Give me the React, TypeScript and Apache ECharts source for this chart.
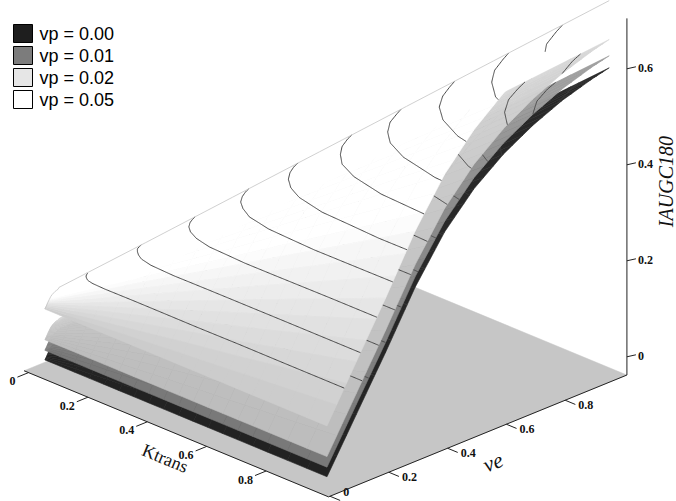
import { useEffect, useRef } from 'react';
import * as echarts from 'echarts';

// surface grid: Ktrans rows, ve given as a fraction of Ktrans (the plotted domain is ve <= Ktrans)
const ktrans = [0.05, 0.2, 0.35, 0.5, 0.65, 0.8, 1.0];
const veRatio = [0, 0.1, 0.2, 0.3, 0.4, 0.5, 0.6, 0.7, 0.8, 0.9, 0.96];

const vpNames = ['vp = 0.00', 'vp = 0.01', 'vp = 0.02', 'vp = 0.05'];

// IAUGC180, one row per Ktrans value, one column per veRatio
const iaugcVp000 = [
  [0, 0.005, 0.011, 0.016, 0.021, 0.024, 0.026, 0.028, 0.029, 0.03, 0.031],
  [0, 0.021, 0.042, 0.064, 0.082, 0.095, 0.104, 0.111, 0.117, 0.121, 0.122],
  [0, 0.037, 0.074, 0.112, 0.144, 0.166, 0.183, 0.195, 0.204, 0.211, 0.214],
  [0, 0.053, 0.105, 0.16, 0.205, 0.238, 0.261, 0.279, 0.292, 0.302, 0.306],
  [0, 0.068, 0.137, 0.208, 0.267, 0.309, 0.339, 0.362, 0.38, 0.392, 0.398],
  [0, 0.084, 0.168, 0.256, 0.328, 0.38, 0.418, 0.446, 0.467, 0.482, 0.49],
  [0, 0.105, 0.21, 0.32, 0.41, 0.475, 0.522, 0.557, 0.584, 0.603, 0.612],
];
const iaugcVp001 = [
  [0.02, 0.025, 0.031, 0.036, 0.041, 0.044, 0.046, 0.048, 0.049, 0.05, 0.051],
  [0.02, 0.041, 0.062, 0.084, 0.102, 0.115, 0.125, 0.132, 0.138, 0.142, 0.143],
  [0.02, 0.057, 0.094, 0.133, 0.165, 0.187, 0.204, 0.216, 0.225, 0.233, 0.236],
  [0.02, 0.073, 0.125, 0.181, 0.226, 0.259, 0.283, 0.301, 0.314, 0.324, 0.328],
  [0.02, 0.088, 0.158, 0.229, 0.288, 0.331, 0.361, 0.384, 0.403, 0.415, 0.421],
  [0.02, 0.104, 0.189, 0.277, 0.35, 0.402, 0.44, 0.469, 0.49, 0.506, 0.514],
  [0.02, 0.126, 0.231, 0.342, 0.432, 0.498, 0.545, 0.58, 0.608, 0.628, 0.637],
];
const iaugcVp002 = [
  [0.042, 0.047, 0.053, 0.058, 0.063, 0.066, 0.068, 0.07, 0.071, 0.072, 0.074],
  [0.042, 0.063, 0.084, 0.107, 0.125, 0.139, 0.148, 0.156, 0.162, 0.166, 0.167],
  [0.042, 0.08, 0.117, 0.156, 0.189, 0.211, 0.229, 0.241, 0.251, 0.259, 0.262],
  [0.042, 0.096, 0.149, 0.205, 0.251, 0.285, 0.308, 0.327, 0.341, 0.352, 0.357],
  [0.042, 0.111, 0.181, 0.254, 0.314, 0.357, 0.388, 0.412, 0.431, 0.445, 0.451],
  [0.042, 0.127, 0.213, 0.302, 0.376, 0.429, 0.469, 0.498, 0.521, 0.537, 0.546],
  [0.042, 0.149, 0.256, 0.367, 0.459, 0.526, 0.575, 0.612, 0.64, 0.661, 0.671],
];
const iaugcVp005 = [
  [0.106, 0.111, 0.117, 0.122, 0.127, 0.13, 0.132, 0.134, 0.135, 0.136, 0.139],
  [0.106, 0.128, 0.149, 0.172, 0.191, 0.205, 0.214, 0.222, 0.229, 0.233, 0.235],
  [0.106, 0.144, 0.182, 0.222, 0.255, 0.278, 0.296, 0.31, 0.32, 0.328, 0.332],
  [0.106, 0.161, 0.215, 0.271, 0.318, 0.353, 0.377, 0.397, 0.412, 0.424, 0.429],
  [0.106, 0.176, 0.248, 0.321, 0.382, 0.426, 0.46, 0.484, 0.504, 0.518, 0.526],
  [0.106, 0.193, 0.28, 0.37, 0.445, 0.5, 0.541, 0.572, 0.595, 0.613, 0.623],
  [0.106, 0.215, 0.323, 0.437, 0.53, 0.598, 0.649, 0.687, 0.718, 0.74, 0.752],
];

const contourLevels = [0.17, 0.23, 0.29, 0.35, 0.405, 0.465, 0.52, 0.58, 0.64, 0.7];

const ktransTicks = [0, 0.2, 0.4, 0.6, 0.8];
const veTicks = [0, 0.2, 0.4, 0.6, 0.8];
const zTicks = [0, 0.2, 0.4, 0.6];

// view of the 3D box
const ORIGIN = [30, 372];
const STEP_K = [297, 123];
const STEP_VE = [294, -120];
const Z_PX = 480;
const Z_FLOOR = -0.038;
const Z_TOP = 0.705;
const BOX_K = [-0.015, 1.01];
const BOX_VE = [-0.005, 1.01];

type V = number[];
const add = (a: V, b: V) => a.map((v, i) => v + b[i]);
const sub = (a: V, b: V) => a.map((v, i) => v - b[i]);
const scale = (a: V, s: number) => a.map(v => v * s);
const dot = (a: V, b: V) => a.reduce((t, v, i) => t + v * b[i], 0);
const unit = (a: V) => scale(a, 1 / Math.sqrt(dot(a, a)));

function project(k: number, ve: number, z: number): V {
  return [
    ORIGIN[0] + k * STEP_K[0] + ve * STEP_VE[0],
    ORIGIN[1] + k * STEP_K[1] + ve * STEP_VE[1] - (z - Z_FLOOR) * Z_PX,
  ];
}

function cellPoint(grid: number[][], i: number, j: number, u: number, v: number): V {
  const k = ktrans[i] + (ktrans[i + 1] - ktrans[i]) * u;
  const s = veRatio[j] + (veRatio[j + 1] - veRatio[j]) * v;
  const z =
    grid[i][j] * (1 - u) * (1 - v) +
    grid[i + 1][j] * u * (1 - v) +
    grid[i + 1][j + 1] * u * v +
    grid[i][j + 1] * (1 - u) * v;
  return [k, s * k, z];
}

function rowAt(grid: number[][], k: number): number[] {
  let i = 0;
  while (i < ktrans.length - 2 && k > ktrans[i + 1]) i++;
  const t = (k - ktrans[i]) / (ktrans[i + 1] - ktrans[i]);
  return grid[i].map((v, j) => v + (grid[i + 1][j] - v) * t);
}

function crossing(row: number[], level: number): number | null {
  for (let j = 0; j < row.length - 1; j++) {
    if ((row[j] - level) * (row[j + 1] - level) <= 0 && row[j] !== row[j + 1]) {
      const t = (level - row[j]) / (row[j + 1] - row[j]);
      return veRatio[j] + t * (veRatio[j + 1] - veRatio[j]);
    }
  }
  return null;
}

function contourPath(grid: number[][], level: number): V[] {
  const k0 = ktrans[0];
  const k1 = ktrans[ktrans.length - 1];
  const n = 240;
  const pts: V[] = [];
  let prevK: number | null = null;
  for (let m = 0; m <= n; m++) {
    const k = k0 + ((k1 - k0) * m) / n;
    const s = crossing(rowAt(grid, k), level);
    if (s === null) {
      prevK = k;
      continue;
    }
    if (pts.length === 0 && prevK !== null) {
      let lo = prevK;
      let hi = k;
      for (let it = 0; it < 24; it++) {
        const mid = (lo + hi) / 2;
        if (crossing(rowAt(grid, mid), level) === null) lo = mid;
        else hi = mid;
      }
      const s0 = crossing(rowAt(grid, hi), level) as number;
      pts.push([hi, s0 * hi, level]);
    }
    pts.push([k, s * k, level]);
  }
  return pts;
}

// brightness rises from the ve = 0 edge towards the upper boundary, as in the rendering
function surfaceRenderer(grid: number[][], base: number, shade: number[], lineColor: string, outline: boolean) {
  return (_params: unknown, api: any) => {
    const px = (p: V) => api.coord(project(p[0], p[1], p[2]));
    const children: any[] = [];
    const n = 3;
    for (let i = 0; i < ktrans.length - 1; i++) {
      for (let j = 0; j < veRatio.length - 1; j++) {
        for (let a = 0; a < n; a++) {
          for (let b = 0; b < n; b++) {
            const q = [
              [a, b],
              [a + 1, b],
              [a + 1, b + 1],
              [a, b + 1],
            ].map(([u, v]) => cellPoint(grid, i, j, u / n, v / n));
            const sMid = veRatio[j] + ((veRatio[j + 1] - veRatio[j]) * (b + 0.5)) / n;
            const lit = Math.min(1, shade[0] + shade[1] * sMid);
            const g = Math.round(base * lit);
            const col = `rgb(${g},${g},${g})`;
            children.push({
              type: 'polygon',
              shape: { points: q.map(px) },
              style: { fill: col, stroke: col, lineWidth: 0.6 },
            });
          }
        }
      }
    }
    contourLevels.forEach(level => {
      const pts = contourPath(grid, level);
      if (pts.length < 2) return;
      children.push({
        type: 'polyline',
        shape: { points: pts.map(px) },
        style: { stroke: lineColor, lineWidth: 0.9, fill: null },
      });
    });
    if (outline) {
      const last = veRatio.length - 1;
      const edge: V[] = [];
      veRatio.forEach((s, j) => edge.push([ktrans[0], s * ktrans[0], grid[0][j]]));
      ktrans.forEach((k, i) => {
        if (i > 0) edge.push([k, veRatio[last] * k, grid[i][last]]);
      });
      children.push({
        type: 'polyline',
        shape: { points: edge.map(px) },
        style: { stroke: '#c4c4c4', lineWidth: 0.8, fill: null },
      });
    }
    return { type: 'group', children };
  };
}

function floorRenderer(_params: unknown, api: any) {
  const corners = [
    [BOX_K[0], BOX_VE[0]],
    [BOX_K[1], BOX_VE[0]],
    [BOX_K[1], BOX_VE[1]],
    [BOX_K[0], BOX_VE[1]],
  ].map(([k, ve]) => api.coord(project(k, ve, Z_FLOOR)));
  return {
    type: 'polygon',
    shape: { points: corners },
    style: { fill: '#c6c6c6', stroke: '#c6c6c6', lineWidth: 0.5 },
  };
}

const tickFont = { fontFamily: 'Liberation Serif', fontSize: 12, fontWeight: 'bold', fill: '#111' };

function axesRenderer(_params: unknown, api: any) {
  const c = (p: V) => api.coord(p);
  const uK = unit(STEP_K);
  const uVe = unit(STEP_VE);
  const children: any[] = [];
  const line = (p: V, q: V, w = 1) =>
    children.push({
      type: 'line',
      shape: { x1: c(p)[0], y1: c(p)[1], x2: c(q)[0], y2: c(q)[1] },
      style: { stroke: '#222', lineWidth: w },
    });
  const label = (p: V, text: string, align: string) => {
    const xy = c(p);
    children.push({
      type: 'text',
      x: xy[0],
      y: xy[1],
      style: { text, align, verticalAlign: 'middle', ...tickFont },
    });
  };

  // Ktrans axis along the front-left edge
  line(project(BOX_K[0], BOX_VE[0], Z_FLOOR), project(BOX_K[1], BOX_VE[0], Z_FLOOR));
  ktransTicks.forEach(k => {
    const base = project(k, BOX_VE[0], Z_FLOOR);
    const end = sub(base, scale(uVe, 12));
    line(base, end);
    label(add(end, [-2, 4]), String(k), 'right');
  });

  // ve axis along the front-right edge
  line(project(BOX_K[1], BOX_VE[0], Z_FLOOR), project(BOX_K[1], BOX_VE[1], Z_FLOOR));
  veTicks.forEach(v => {
    const base = project(BOX_K[1], v, Z_FLOOR);
    const end = add(base, scale(uK, 11));
    line(base, end);
    // keep the lowest label inside the bottom edge
    label(add(end, [3, v === 0 ? -8 : 1]), String(v), 'left');
  });

  // IAUGC180 axis standing at the right corner
  line(project(BOX_K[1], BOX_VE[1], Z_FLOOR), project(BOX_K[1], BOX_VE[1], Z_TOP));
  zTicks.forEach(z => {
    const base = project(BOX_K[1], BOX_VE[1], z);
    const end = add(base, [9, -2]);
    line(base, end);
    label(add(end, [2, 1]), String(z), 'left');
  });

  const title = (p: V, text: string, rotation: number, style: object) => {
    const xy = c(p);
    children.push({
      type: 'text',
      x: xy[0],
      y: xy[1],
      rotation,
      style: { text, align: 'center', verticalAlign: 'middle', fill: '#111', fontFamily: 'Liberation Serif', ...style },
    });
  };
  title(add(project(0.47, BOX_VE[0], Z_FLOOR), [-3, 28]), 'Ktrans', -Math.atan2(STEP_K[1], STEP_K[0]), { fontSize: 18 });
  title(add(project(BOX_K[1], 0.5, Z_FLOOR), [16, 26]), 've', Math.atan2(-STEP_VE[1], STEP_VE[0]), {
    fontSize: 22,
    fontStyle: 'italic',
  });
  title(add(project(BOX_K[1], BOX_VE[1], 0.34), [39, -12]), 'IAUGC180', Math.PI / 2, {
    fontSize: 20,
    fontStyle: 'italic',
  });
  return { type: 'group', children };
}

const surfaceGrids = [iaugcVp000, iaugcVp001, iaugcVp002, iaugcVp005];
const surfaceBase = [40, 158, 230, 255];
const surfaceShade = [
  [0.85, 0.4],
  [0.76, 0.3],
  [0.82, 0.12],
  [0.79, 0.62],
];
const legendFill = ['#1e1e1e', '#7c7c7c', '#e6e6e6', '#ffffff'];
const contourColor = ['#3c3c3c', '#444', '#3a3a3a', '#333'];

export default function App() {
  const chartRef = useRef<HTMLDivElement>(null);

  useEffect(() => {
    if (!chartRef.current) return;
    document.body.style.margin = '0';
    const chart = echarts.init(chartRef.current, undefined, { renderer: 'svg' });

    const anchor = [[0, 0]];
    const option: any = {
      animation: false,
      grid: { left: 0, right: 0, top: 0, bottom: 0 },
      xAxis: { type: 'value', min: 0, max: 676, show: false },
      yAxis: { type: 'value', min: 0, max: 501, inverse: true, show: false },
      legend: {
        data: vpNames,
        orient: 'vertical',
        left: 8,
        top: 19,
        itemWidth: 19,
        itemHeight: 18,
        itemGap: 3,
        icon: 'rect',
        selectedMode: false,
        itemStyle: { borderColor: '#000', borderWidth: 1 },
        textStyle: { fontFamily: 'Liberation Sans', fontSize: 18, color: '#000', padding: [0, 0, 0, 2] },
      },
      series: [
        {
          type: 'custom',
          name: 'floor',
          silent: true,
          z: 1,
          data: anchor,
          encode: { x: 0, y: 1 },
          renderItem: floorRenderer,
        },
        ...surfaceGrids.map((grid, idx) => ({
          type: 'custom',
          name: vpNames[idx],
          silent: true,
          z: 2 + idx,
          data: anchor,
          encode: { x: 0, y: 1 },
          itemStyle: { color: legendFill[idx], borderColor: '#000', borderWidth: 1 },
          renderItem: surfaceRenderer(grid, surfaceBase[idx], surfaceShade[idx], contourColor[idx], idx === 3),
        })),
        {
          type: 'custom',
          name: 'axes',
          silent: true,
          z: 10,
          data: anchor,
          encode: { x: 0, y: 1 },
          renderItem: axesRenderer,
        },
      ],
    };

    chart.setOption(option);
    return () => chart.dispose();
  }, []);

  return <div ref={chartRef} style={{ width: '676px', height: '501px' }} />;
}
